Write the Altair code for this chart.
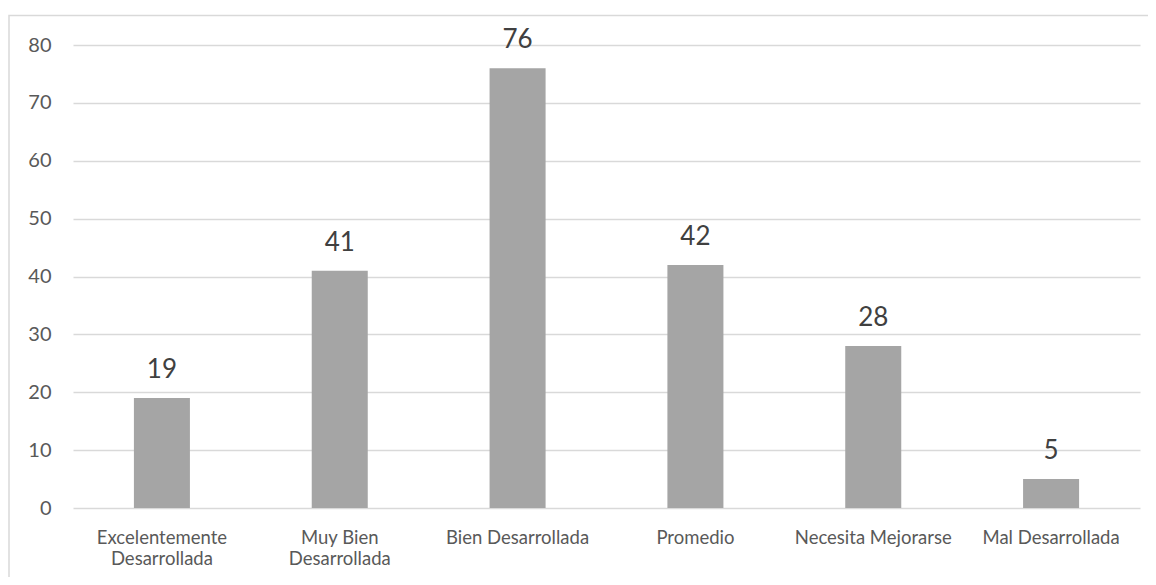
import altair as alt
import pandas as pd

categories = [
    "Excelentemente\nDesarrollada",
    "Muy Bien\nDesarrollada",
    "Bien Desarrollada",
    "Promedio",
    "Necesita Mejorarse",
    "Mal Desarrollada",
]
values = [19, 41, 76, 42, 28, 5]
y_ticks = [0, 10, 20, 30, 40, 50, 60, 70, 80]

df = pd.DataFrame({"cat": categories, "val": values})

FONT = "Lato"
GRID = "#D9D9D9"

x_enc = alt.X(
    "cat:N",
    sort=categories,
    title=None,
    scale=alt.Scale(paddingInner=0.685, paddingOuter=0.3425),
    axis=alt.Axis(
        labelAngle=0,
        labelExpr="split(datum.label, '\\n')",
        labelFont=FONT,
        labelFontSize=18.5,
        labelColor="#595959",
        labelPadding=20,
        labelLineHeight=21,
        ticks=False,
        domain=False,
        grid=False,
    ),
)
y_enc = alt.Y(
    "val:Q",
    title=None,
    scale=alt.Scale(domain=[0, 80], nice=False),
    axis=alt.Axis(
        values=y_ticks,
        labelFont=FONT,
        labelFontSize=20,
        labelColor="#595959",
        labelPadding=22,
        ticks=False,
        domain=False,
        grid=True,
        gridColor=GRID,
        gridWidth=1.3,
    ),
)

bars = alt.Chart(df).mark_bar(color="#A5A5A5").encode(x=x_enc, y=y_enc)

labels = alt.Chart(df).mark_text(
    font=FONT, fontSize=26, color="#404040", baseline="alphabetic", dy=-20
).encode(x=alt.X("cat:N", sort=categories), y="val:Q", text="val:Q")

frame = alt.Chart(pd.DataFrame({"a": [0]})).mark_rect(
    fill=None, stroke=GRID, strokeWidth=1.5
).encode(
    x=alt.value(-64),
    x2=alt.value(1200),
    y=alt.value(-29.5),
    y2=alt.value(700),
)

chart = (
    alt.layer(frame, bars, labels)
    .properties(
        width=1067,
        height=463,
        autosize=alt.AutoSizeParams(type="none"),
        padding={"left": 65, "top": 37, "right": 8, "bottom": 69},
        background="white",
    )
    .configure_view(stroke=None)
)

chart.save("out.html", embed_options={"renderer": "svg", "actions": False})
